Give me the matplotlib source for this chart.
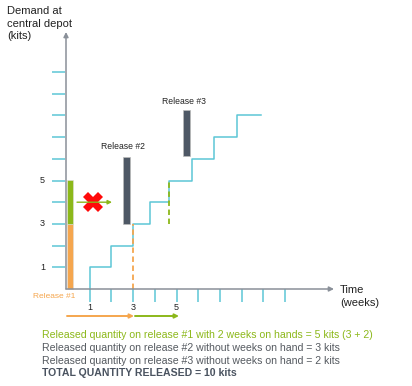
import matplotlib
matplotlib.use("Agg")
import matplotlib.pyplot as plt

plt.rcParams['font.family'] = ['Liberation Sans', 'DejaVu Sans']

# ---- data ----
step_weeks = [1, 1, 2, 3, 3.8, 4.65, 5.7, 6.75, 7.8, 8.9]
step_levels = [0, 1, 2, 3, 4, 5, 6, 7, 8, 8]
ytick_levels = [1, 2, 3, 4, 5, 6, 7, 8, 9, 10]
ytick_labels = {1: "1", 3: "3", 5: "5"}
xtick_weeks = [1, 2, 3, 4, 5, 6, 7, 8, 9, 10]
xtick_labels = {1: "1", 3: "3", 5: "5"}

rel1_week = 0.1
rel1_base = 3          # orange part
rel1_extra = 2         # green part (2 weeks on hand)
rel2_week = 2.7
rel2_bottom, rel2_qty = 3, 3.1
rel3_week = 5.46
rel3_bottom, rel3_qty = 6.15, 2.1

text_lines = [
    "Released quantity on release #1 with 2 weeks on hands = 5 kits (3 + 2)",
    "Released quantity on release #2 without weeks on hand = 3 kits",
    "Released quantity on release #3 without weeks on hand = 2 kits",
    "TOTAL QUANTITY RELEASED = 10 kits",
]

# ---- colours ----
TEAL = "#5cc6d6"
ORANGE = "#f5a64e"
GREEN = "#8cb81a"
DARK = "#4e5865"
AXIS = "#8a9099"
TXT = "#555a60"

W, H = 412, 386
U = 21.7
X0, Y0 = 68, 289


def px(x):
    return (x - X0) / U


def py(y):
    return (Y0 - y) / U


fig = plt.figure(figsize=(W / 100, H / 100), dpi=100)
ax = fig.add_axes([0, 0, 1, 1])
ax.set_xlim(px(0), px(W))
ax.set_ylim(py(H), py(0))
ax.axis("off")

# axes with arrows
ax.annotate("", xy=(px(66), py(32)), xytext=(px(66), py(289)),
            arrowprops=dict(arrowstyle="-|>", color=AXIS, lw=1.1, mutation_scale=7,
                            shrinkA=0, shrinkB=0))
ax.annotate("", xy=(px(334), py(289)), xytext=(px(66), py(289)),
            arrowprops=dict(arrowstyle="-|>", color=AXIS, lw=1.1, mutation_scale=7,
                            shrinkA=0, shrinkB=0))

# y ticks
for lv in ytick_levels:
    ax.plot([px(52), px(65)], [lv, lv], color=TEAL, lw=1.1, solid_capstyle="butt")
    if lv in ytick_labels:
        ax.text(px(45), lv, ytick_labels[lv], ha="right", va="center", fontsize=6.5,
                color="#222222")

# x ticks
for wk in xtick_weeks:
    ax.plot([wk, wk], [py(289), py(302)], color=TEAL, lw=1.1, solid_capstyle="butt")
    if wk in xtick_labels:
        ax.text(wk, py(307), xtick_labels[wk], ha="center", va="center", fontsize=6.5,
                color="#222222")

# staircase demand
ax.step(step_weeks, step_levels, where="post", color=TEAL, lw=1.1)

# release #1 bar
ax.bar(rel1_week, rel1_base, bottom=0, width=0.28, color=ORANGE, edgecolor="#dddddd", lw=0.4)
ax.bar(rel1_week, rel1_extra, bottom=rel1_base, width=0.28, color=GREEN, edgecolor="#dddddd", lw=0.4)
# release #2 and #3
ax.bar(rel2_week, rel2_qty, bottom=rel2_bottom, width=0.32, color=DARK, edgecolor="#bbbbbb", lw=0.5)
ax.bar(rel3_week, rel3_qty, bottom=rel3_bottom, width=0.32, color=DARK, edgecolor="#bbbbbb", lw=0.5)

# dashed lines
ax.plot([3, 3], [0, 3], color=ORANGE, lw=1.3, ls=(0, (3, 2)))
ax.plot([4.65, 4.65], [3, 5], color=GREEN, lw=1.3, ls=(0, (3, 2)))

# green arrow with red cross
ax.annotate("", xy=(px(112), 4), xytext=(px(77), 4),
            arrowprops=dict(arrowstyle="-|>", color=GREEN, lw=1.0, mutation_scale=6,
                            shrinkA=0, shrinkB=0))
ax.plot([px(93)], [4], marker="X", markersize=14, color="#ff0a0a", markeredgewidth=0)

# bottom arrows
ax.annotate("", xy=(px(134), py(316)), xytext=(px(67), py(316)),
            arrowprops=dict(arrowstyle="-|>", color=ORANGE, lw=1.4, mutation_scale=6,
                            shrinkA=0, shrinkB=0))
ax.annotate("", xy=(px(179), py(316)), xytext=(px(135), py(316)),
            arrowprops=dict(arrowstyle="-|>", color=GREEN, lw=1.4, mutation_scale=6,
                            shrinkA=0, shrinkB=0))

# labels
ax.text(px(123), py(147), "Release #2", ha="center", va="center", fontsize=6.2, color="#222222")
ax.text(px(184), py(102), "Release #3", ha="center", va="center", fontsize=6.2, color="#222222")
ax.text(px(54), py(297), "Release #1", ha="center", va="center", fontsize=6.0, color=ORANGE)

ax.text(px(7), py(11), "Demand at", ha="left", va="center", fontsize=8, color="#222222")
ax.text(px(7), py(24), "central depot", ha="left", va="center", fontsize=8, color="#222222")
ax.text(px(7), py(36), "(kits)", ha="left", va="center", fontsize=8, color="#222222")
ax.text(px(340), py(290), "Time", ha="left", va="center", fontsize=8, color="#222222")
ax.text(px(340), py(303), "(weeks)", ha="left", va="center", fontsize=8, color="#222222")

# bottom text
line_y = [335, 348, 361, 373]
colors = [GREEN, TXT, TXT, "#4a5360"]
weights = ["normal", "normal", "normal", "bold"]
for t, yy, c, fw in zip(text_lines, line_y, colors, weights):
    ax.text(px(42), py(yy), t, ha="left", va="center", fontsize=7.6, color=c, fontweight=fw)

fig.savefig("out.png", dpi=100)
